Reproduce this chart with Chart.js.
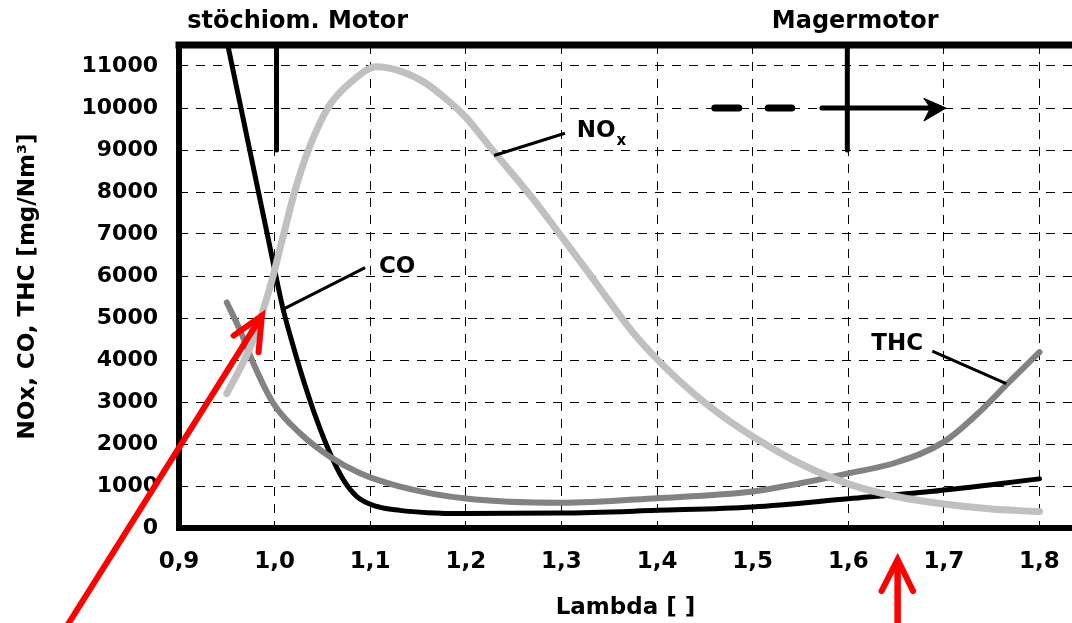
<!DOCTYPE html>
<html>
<head>
<meta charset="utf-8">
<script src="https://cdn.jsdelivr.net/npm/chart.js@4.4.1/dist/chart.umd.min.js"></script>
<style>
  html, body { margin: 0; padding: 0; background: #fff; }
  canvas { display: block; }
</style>
</head>
<body>
<canvas id="chart" width="1072" height="623"></canvas>
<script>
// axis ticks (German decimal comma on lambda)
const xTickValues = [0.9, 1.0, 1.1, 1.2, 1.3, 1.4, 1.5, 1.6, 1.7, 1.8];
const xTickLabels = ['0,9', '1,0', '1,1', '1,2', '1,3', '1,4', '1,5', '1,6', '1,7', '1,8'];
const yTickValues = [0, 1000, 2000, 3000, 4000, 5000, 6000, 7000, 8000, 9000, 10000, 11000];

// CO - black curve
const coLambda = [0.9464, 0.9648, 0.9831, 0.9923, 1.0024, 1.0093, 1.0198, 1.0302, 1.0442, 1.058, 1.072, 1.086, 1.107, 1.131, 1.16, 1.2, 1.3, 1.4, 1.5, 1.6, 1.686, 1.8];
const coValues = [12000, 10000, 8000, 7000, 5884, 5173, 4303, 3514, 2566, 1777, 1145, 749, 512, 420, 365, 345, 355, 420, 500, 695, 870, 1170];

// NOx - light grey curve
const noxLambda = [0.95, 0.975, 0.9867, 0.997, 1.0084, 1.0209, 1.0353, 1.057, 1.079, 1.107, 1.128, 1.156, 1.1765, 1.2, 1.225, 1.25, 1.275, 1.3, 1.325, 1.35, 1.375, 1.4, 1.425, 1.45, 1.475, 1.5, 1.55, 1.6, 1.65, 1.7, 1.75, 1.8];
const noxValues = [3199, 4330, 5095, 5884, 6900, 8000, 9000, 10050, 10600, 10980, 10900, 10622, 10268, 9780, 9080, 8400, 7700, 6940, 6180, 5400, 4650, 4020, 3470, 2980, 2555, 2180, 1530, 1050, 750, 570, 450, 390];

// THC - medium grey curve
const thcLambda = [0.95, 0.964, 0.978, 0.9988, 1.0268, 1.058, 1.0894, 1.1313, 1.2, 1.3, 1.4, 1.5, 1.55, 1.6, 1.65, 1.7, 1.739, 1.765, 1.8];
const thcValues = [5370, 4699, 3910, 2962, 2251, 1697, 1303, 986, 700, 600, 710, 870, 1066, 1300, 1560, 2050, 2800, 3400, 4185];

// annotations, in lambda / mg units
const stoichMarker = [[1.002, 11500], [1.002, 9000]];
const leanMarker = [[1.599, 11500], [1.599, 9000]];
const leanDashes = [[1.4604, 10000], [1.4855, 10000], [1.5, null], [1.5163, 10000], [1.5409, 10000]];
const leanShaft = [[1.5724, 10000], [1.688, 10000]];
const leanHead = [[1.679, 10230], [1.7023, 10000], [1.679, 9690], [1.686, 10000], [1.679, 10230]];
const coLeader = [[1.0102, 5225], [1.0947, 6199]];
const noxLeader = [[1.2296, 8870], [1.3037, 9398]];
const thcLeader = [[1.6879, 4209], [1.7652, 3436]];
const redArrowA = [[0.7807, -2410], [0.9867, 5055]];
const redHeadA = [[0.9571, 4581], [0.9867, 5055], [0.9832, 4185]];
const redArrowB = [[1.6516, -2410], [1.6516, -751]];
const redHeadB = [[1.6348, -1502], [1.6516, -751], [1.6678, -1502]];

const curveLabels = [
  { text: 'CO', x: 1.1091, y: 6081 },
  { text: 'NO', sub: 'x', x: 1.3159, y: 9320 },
  { text: 'THC', x: 1.6241, y: 4242 }
];
const regionLabels = [
  { text: 'stöchiom. Motor', x: 1.0241, y: 11903 },
  { text: 'Magermotor', x: 1.6072, y: 11903 }
];

const FONT = 'DejaVu Sans';
Chart.defaults.font.family = FONT;
Chart.defaults.font.weight = 'bold';
Chart.defaults.color = '#000';

const toPts = (xs, ys) => xs.map((x, i) => ({ x: x, y: ys[i] }));
const seg = arr => arr.map(p => ({ x: p[0], y: p[1] }));

function mark(points, color, width, extra) {
  return Object.assign({
    data: seg(points),
    showLine: true,
    borderColor: color,
    borderWidth: width,
    pointRadius: 0,
    fill: false,
    tension: 0,
    spanGaps: false
  }, extra || {});
}

function curve(xs, ys, color, width) {
  return {
    data: toPts(xs, ys),
    showLine: true,
    borderColor: color,
    borderWidth: width,
    pointRadius: 0,
    fill: false,
    cubicInterpolationMode: 'monotone',
    borderCapStyle: 'round',
    borderJoinStyle: 'round'
  };
}

// top frame line plus left/bottom axis lines
const framePlugin = {
  id: 'frame',
  beforeDatasetsDraw(chart) {
    const { ctx, chartArea: a } = chart;
    ctx.save();
    ctx.strokeStyle = '#000';
    ctx.lineCap = 'square';
    ctx.lineWidth = 6;
    ctx.beginPath();
    ctx.moveTo(a.right + 5, a.bottom);
    ctx.lineTo(a.left, a.bottom);
    ctx.lineTo(a.left, a.top);
    ctx.stroke();
    ctx.lineWidth = 7;
    ctx.beginPath();
    ctx.moveTo(a.left, a.top);
    ctx.lineTo(a.right + 5, a.top);
    ctx.stroke();
    ctx.restore();
  }
};

const labelPlugin = {
  id: 'labels',
  afterDatasetsDraw(chart) {
    const { ctx } = chart;
    const xs = chart.scales.x, ys = chart.scales.y;
    ctx.save();
    ctx.fillStyle = '#000';
    ctx.textBaseline = 'alphabetic';
    ctx.textAlign = 'center';
    ctx.font = 'bold 24px "' + FONT + '"';
    regionLabels.forEach(l => {
      ctx.fillText(l.text, xs.getPixelForValue(l.x), ys.getPixelForValue(l.y));
    });
    ctx.textAlign = 'left';
    curveLabels.forEach(l => {
      const px = xs.getPixelForValue(l.x), py = ys.getPixelForValue(l.y);
      ctx.font = 'bold 23px "' + FONT + '"';
      ctx.fillText(l.text, px, py);
      if (l.sub) {
        const w = ctx.measureText(l.text).width;
        ctx.font = 'bold 15px "' + FONT + '"';
        ctx.fillText(l.sub, px + w + 1, py + 8);
      }
    });
    ctx.restore();
  }
};

new Chart(document.getElementById('chart'), {
  type: 'scatter',
  data: {
    datasets: [
      mark(redArrowA, '#ff0000', 6, { clip: false, borderCapStyle: 'butt' }),
      mark(redHeadA, '#ff0000', 6, { clip: false, borderCapStyle: 'round', borderJoinStyle: 'miter' }),
      mark(redArrowB, '#ff0000', 6.5, { clip: false }),
      mark(redHeadB, '#ff0000', 6, { clip: false, borderCapStyle: 'round', borderJoinStyle: 'miter' }),
      mark(coLeader, '#000', 3),
      mark(noxLeader, '#000', 3),
      mark(thcLeader, '#000', 3),
      mark(stoichMarker, '#000', 5, { borderCapStyle: 'round' }),
      mark(leanMarker, '#000', 5, { borderCapStyle: 'round' }),
      mark(leanDashes, '#000', 7, { borderCapStyle: 'round' }),
      mark(leanShaft, '#000', 5, { borderCapStyle: 'round' }),
      mark(leanHead, '#000', 1, { fill: 'shape', backgroundColor: '#000' }),
      curve(noxLambda, noxValues, '#c0c0c0', 7),
      curve(thcLambda, thcValues, '#828282', 6),
      curve(coLambda, coValues, '#000', 5)
    ]
  },
  options: {
    responsive: false,
    animation: false,
    devicePixelRatio: 1,
    layout: { padding: { top: 45, left: 0, right: 0, bottom: 0 } },
    plugins: { legend: { display: false }, tooltip: { enabled: false } },
    scales: {
      x: {
        type: 'linear',
        min: 0.9,
        max: 1.834,
        afterFit: s => { s.height = 95; s.paddingLeft = 0; s.paddingRight = 0; },
        afterBuildTicks: s => { s.ticks = xTickValues.map(v => ({ value: v })); },
        ticks: {
          callback: (v, i) => xTickLabels[i],
          autoSkip: false,
          maxRotation: 0,
          padding: 20,
          color: '#000',
          font: { size: 23, weight: 'bold' }
        },
        grid: { color: '#000', lineWidth: 1, drawTicks: false },
        border: { display: false, dash: [9, 8] },
        title: {
          display: true,
          text: 'Lambda [ ]',
          color: '#000',
          font: { size: 23, weight: 'bold' },
          padding: { top: 0, bottom: 1 }
        }
      },
      y: {
        type: 'linear',
        min: 0,
        max: 11500,
        afterFit: s => { s.width = 179; s.paddingTop = 0; s.paddingBottom = 0; },
        afterBuildTicks: s => { s.ticks = yTickValues.map(v => ({ value: v })); },
        ticks: {
          callback: v => String(v),
          autoSkip: false,
          padding: 21,
          color: '#000',
          font: { size: 22, weight: 'bold' }
        },
        grid: { color: '#000', lineWidth: 1, drawTicks: false },
        border: { display: false, dash: [9, 8] },
        title: {
          display: true,
          text: 'NOx, CO, THC [mg/Nm³]',
          color: '#000',
          font: { size: 23, weight: 'bold' },
          padding: { top: 14, bottom: 0 }
        }
      }
    }
  },
  plugins: [framePlugin, labelPlugin]
});
</script>
</body>
</html>
